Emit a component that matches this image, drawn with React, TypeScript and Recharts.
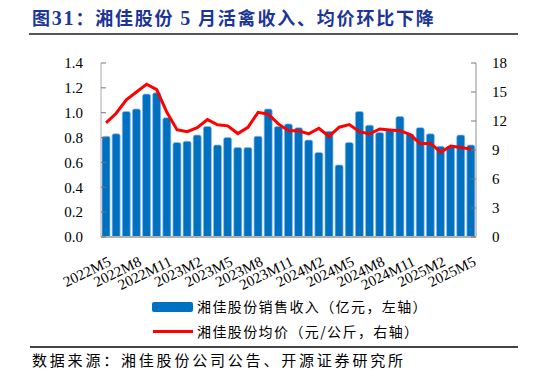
import { ComposedChart, Bar, Line, XAxis, YAxis } from 'recharts'

const months = [
  '2022M5', '2022M6', '2022M7', '2022M8', '2022M9', '2022M10', '2022M11', '2022M12',
  '2023M1', '2023M2', '2023M3', '2023M4', '2023M5', '2023M6', '2023M7', '2023M8',
  '2023M9', '2023M10', '2023M11', '2023M12', '2024M1', '2024M2', '2024M3', '2024M4',
  '2024M5', '2024M6', '2024M7', '2024M8', '2024M9', '2024M10', '2024M11', '2024M12',
  '2025M1', '2025M2', '2025M3', '2025M4', '2025M5',
]

// 销售收入（亿元）
const revenue = [
  0.81, 0.83, 1.01, 1.03, 1.15, 1.16, 0.96, 0.76,
  0.77, 0.82, 0.89, 0.74, 0.80, 0.72, 0.72, 0.81,
  1.03, 0.89, 0.91, 0.88, 0.78, 0.68, 0.85, 0.58,
  0.76, 1.01, 0.90, 0.84, 0.86, 0.97, 0.83, 0.88,
  0.83, 0.73, 0.73, 0.82, 0.74,
]

// 均价（元/公斤）
const price = [
  11.8, 12.8, 14.2, 15.0, 15.8, 15.25, 12.9, 11.1,
  10.9, 11.3, 12.15, 11.6, 11.5, 10.7, 11.35, 12.9,
  12.7, 11.7, 11.0, 10.98, 10.67, 11.25, 10.4, 11.36,
  11.63, 10.9, 10.67, 11.18, 11.08, 11.0, 10.6, 9.65,
  9.7, 8.77, 9.4, 9.27, 9.07,
]

const leftTicks = [0, 0.2, 0.4, 0.6, 0.8, 1.0, 1.2, 1.4]
const rightTicks = [0, 3, 6, 9, 12, 15, 18]

const data = months.map((m, i) => ({ month: m, revenue: revenue[i], price: price[i] }))

const serif = '"Liberation Serif", "Times New Roman", serif'
const cjk = '"Noto Sans CJK SC", sans-serif'
const navy = '#1c3596'

const MonthTick = ({ x, y, payload }: any) => {
  const tx = x + 6
  const ty = y + 28
  return (
    <text
      x={tx}
      y={ty}
      textAnchor="end"
      transform={`rotate(-26, ${tx}, ${ty})`}
      fontSize={15}
      fontFamily={serif}
      fill="#000"
    >
      {payload.value}
    </text>
  )
}

export default function App() {
  return (
    <div style={{ position: 'fixed', left: 0, top: 0, width: 546, height: 377, background: '#fff', overflow: 'hidden' }}>
      {/* Title */}
      <div
        style={{
          position: 'absolute', left: 32, top: 5, fontSize: 18, fontWeight: 700,
          color: navy, fontFamily: cjk, letterSpacing: 1.8, lineHeight: '24px', whiteSpace: 'nowrap',
        }}
      >
        图<span style={{ fontFamily: serif, fontSize: 20 }}>31</span>：湘佳股份 <span style={{ fontFamily: serif, fontSize: 20 }}>5</span> 月活禽收入、均价环比下降
      </div>
      <div style={{ position: 'absolute', left: 29, top: 33, width: 489, height: 1.5, background: '#555' }} />

      <div style={{ position: 'absolute', left: 0, top: 0 }}>
        <ComposedChart width={546} height={300} data={data} margin={{ top: 63, right: 0, left: 0, bottom: 0 }}>
          <XAxis
            dataKey="month"
            interval={2}
            height={63}
            tickSize={0}
            tickMargin={0}
            tickLine={false}
            axisLine={{ stroke: '#b0b0b0', strokeWidth: 2 }}
            tick={<MonthTick />}
          />
          <YAxis
            yAxisId="left"
            domain={[0, 1.4]}
            ticks={leftTicks}
            width={101}
            tickSize={-5}
            tickMargin={23}
            tickLine={{ stroke: '#777' }}
            axisLine={{ stroke: '#c8c8c8', strokeWidth: 1.5 }}
            tickFormatter={(v: number) => v.toFixed(1)}
            tick={{ fontSize: 15, fontFamily: serif, fill: '#000' }}
          />
          <YAxis
            yAxisId="right"
            orientation="right"
            domain={[0, 18]}
            ticks={rightTicks}
            width={70}
            tickSize={-5}
            tickMargin={21}
            tickLine={{ stroke: '#777' }}
            axisLine={{ stroke: '#c8c8c8', strokeWidth: 2 }}
            tick={{ fontSize: 15, fontFamily: serif, fill: '#000', textAnchor: 'start' }}
          />
          <Bar
            yAxisId="left"
            dataKey="revenue"
            fill="#0070c0"
            stroke="#8cbce6"
            strokeWidth={0.7}
            barSize={8}
            radius={[2, 2, 0, 0]}
            isAnimationActive={false}
          />
          <Line
            yAxisId="right"
            dataKey="price"
            type="linear"
            stroke="#ff0000"
            strokeWidth={3}
            dot={false}
            isAnimationActive={false}
          />
        </ComposedChart>
      </div>

      {/* Legend */}
      <div style={{ position: 'absolute', left: 152, top: 302, width: 41, height: 10, background: '#0070c0', borderRadius: 2 }} />
      <div style={{ position: 'absolute', left: 197, top: 296, fontSize: 14, fontFamily: cjk, letterSpacing: 1.4, lineHeight: '20px', color: '#000', whiteSpace: 'nowrap' }}>
        湘佳股份销售收入（亿元，左轴）
      </div>
      <div style={{ position: 'absolute', left: 153, top: 330, width: 40, height: 3, background: '#ff0000' }} />
      <div style={{ position: 'absolute', left: 197, top: 321, fontSize: 14, fontFamily: cjk, letterSpacing: 1.4, lineHeight: '20px', color: '#000', whiteSpace: 'nowrap' }}>
        湘佳股份均价（元/公斤，右轴）
      </div>

      {/* Source */}
      <div style={{ position: 'absolute', left: 30, top: 346, width: 488, height: 1.5, background: '#444' }} />
      <div style={{ position: 'absolute', left: 32, top: 350, fontSize: 15, fontFamily: cjk, letterSpacing: 2.8, lineHeight: '20px', color: '#000', whiteSpace: 'nowrap' }}>
        数据来源：湘佳股份公司公告、开源证券研究所
      </div>
    </div>
  )
}
